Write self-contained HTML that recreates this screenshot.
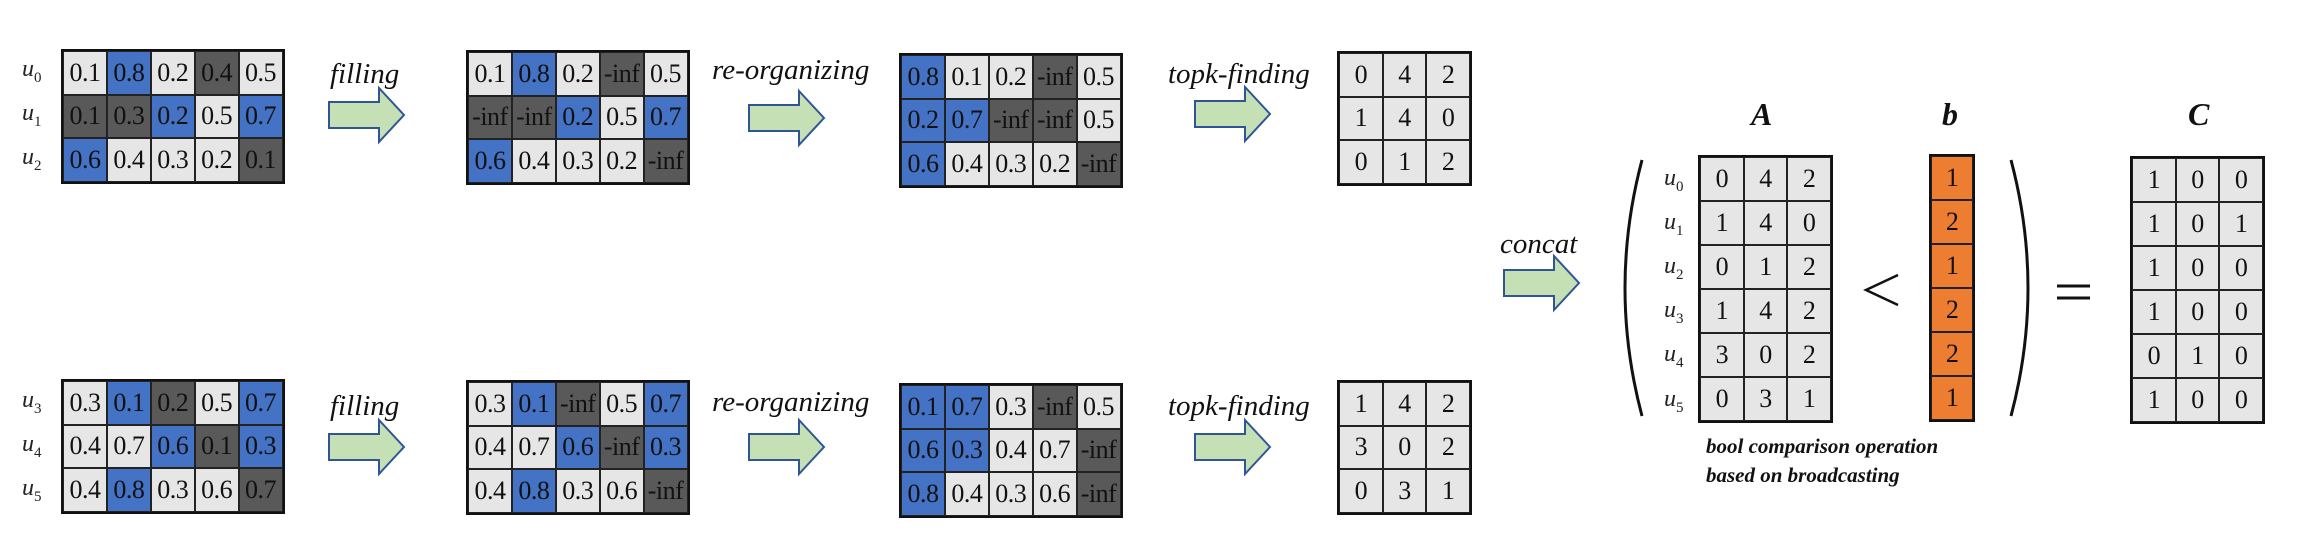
<!DOCTYPE html>
<html><head><meta charset="utf-8">
<style>
body{margin:0;width:2320px;height:551px;background:#fff;position:relative;overflow:hidden;font-family:"Liberation Serif",serif;}
.g{position:absolute;border:2px solid #111;display:grid;box-sizing:border-box;}
.c{border:1px solid #222;display:flex;align-items:center;justify-content:center;font-size:26px;color:#111;box-sizing:border-box;overflow:visible;white-space:nowrap;letter-spacing:-0.5px;}
.L{background:#e6e6e6}.B{background:#4472c4}.D{background:#595959}.O{background:#ed7d31}
.t{position:absolute;font-style:italic;white-space:nowrap;color:#111;}
.u{position:absolute;font-style:italic;font-size:24px;color:#222;}
.u sub{font-size:15px;font-style:normal}
svg{position:absolute;left:0;top:0}
</style></head><body>
<svg width="2320" height="551" id="s"></svg>
<script>
const gridsTop=[
 [["0.1L","0.8B","0.2L","0.4D","0.5L"],["0.1D","0.3D","0.2B","0.5L","0.7B"],["0.6B","0.4L","0.3L","0.2L","0.1D"]],
 [["0.1L","0.8B","0.2L","-infD","0.5L"],["-infD","-infD","0.2B","0.5L","0.7B"],["0.6B","0.4L","0.3L","0.2L","-infD"]],
 [["0.8B","0.1L","0.2L","-infD","0.5L"],["0.2B","0.7B","-infD","-infD","0.5L"],["0.6B","0.4L","0.3L","0.2L","-infD"]],
 [["0L","4L","2L"],["1L","4L","0L"],["0L","1L","2L"]]
];
const gridsBot=[
 [["0.3L","0.1B","0.2D","0.5L","0.7B"],["0.4L","0.7L","0.6B","0.1D","0.3B"],["0.4L","0.8B","0.3L","0.6L","0.7D"]],
 [["0.3L","0.1B","-infD","0.5L","0.7B"],["0.4L","0.7L","0.6B","-infD","0.3B"],["0.4L","0.8B","0.3L","0.6L","-infD"]],
 [["0.1B","0.7B","0.3L","-infD","0.5L"],["0.6B","0.3B","0.4L","0.7L","-infD"],["0.8B","0.4L","0.3L","0.6L","-infD"]],
 [["1L","4L","2L"],["3L","0L","2L"],["0L","3L","1L"]]
];
const matA=[["0L","4L","2L"],["1L","4L","0L"],["0L","1L","2L"],["1L","4L","2L"],["3L","0L","2L"],["0L","3L","1L"]];
const vecB=[["1O"],["2O"],["1O"],["2O"],["2O"],["1O"]];
const matC=[["1L","0L","0L"],["1L","0L","1L"],["1L","0L","0L"],["1L","0L","0L"],["0L","1L","0L"],["1L","0L","0L"]];
const gx=[61,466,899,1337];
function grid(data,x,y,name){
  const d=document.createElement('div');d.className='g';
  
  
  const cols=data[0].length,rows=data.length;
  d.style.left=x+'px';d.style.top=y+'px';d.style.width=(cols*44.3+2)+'px';d.style.height=(rows*44.3+2)+'px';
  d.style.gridTemplateColumns='repeat('+cols+',1fr)';d.style.gridTemplateRows='repeat('+rows+',1fr)';
  data.forEach(r=>r.forEach(v=>{const c=document.createElement('div');c.className='c '+v.slice(-1);c.textContent=v.slice(0,-1);
    
    
    d.appendChild(c);}));
  document.body.appendChild(d);
}
const topY=[49,50,53,51],botY=[379,380,383,380];
gridsTop.forEach((g,i)=>grid(g,gx[i],topY[i],'top-grid-'+i));
gridsBot.forEach((g,i)=>grid(g,gx[i],botY[i],'bottom-grid-'+i));
grid(matA,1698,155,'matrix-a');grid(vecB,1929,154,'vector-b');grid(matC,2130,156,'matrix-c');
const s=document.getElementById('s');
function arrow(x,y){const p=document.createElementNS('http://www.w3.org/2000/svg','polygon');
  p.setAttribute('points',[[0,14],[50,14],[50,0],[75,27],[50,54],[50,40],[0,40]].map(a=>(x+a[0])+','+(y+a[1])).join(' '));
  p.setAttribute('fill','#c5e0b4');p.setAttribute('stroke','#2f5597');p.setAttribute('stroke-width','2');
  
  
  s.appendChild(p);}
[[329,88],[749,91],[1195,87],[329,420],[749,420],[1195,420],[1504,256]].forEach(a=>arrow(a[0],a[1]));
function path(d,w){const p=document.createElementNS('http://www.w3.org/2000/svg','path');p.setAttribute('d',d);p.setAttribute('fill','none');p.setAttribute('stroke','#111');p.setAttribute('stroke-width',w);
  
  
  s.appendChild(p);}
path('M1642 160 Q1608 288 1642 416',3);
path('M2011 160 Q2045 288 2011 416',3);
path('M1898 275 L1866 290 L1898 305',2.5);
path('M2057 286 L2090 286 M2057 298 L2090 298',3);
</script>
<div class="u" style="left:22px;top:56px">u<sub>0</sub></div>
<div class="u" style="left:22px;top:100px">u<sub>1</sub></div>
<div class="u" style="left:22px;top:144px">u<sub>2</sub></div>
<div class="u" style="left:22px;top:387px">u<sub>3</sub></div>
<div class="u" style="left:22px;top:431px">u<sub>4</sub></div>
<div class="u" style="left:22px;top:475px">u<sub>5</sub></div>
<div class="u" style="left:1664px;top:165px">u<sub>0</sub></div>
<div class="u" style="left:1664px;top:209px">u<sub>1</sub></div>
<div class="u" style="left:1664px;top:253px">u<sub>2</sub></div>
<div class="u" style="left:1664px;top:297px">u<sub>3</sub></div>
<div class="u" style="left:1664px;top:341px">u<sub>4</sub></div>
<div class="u" style="left:1664px;top:386px">u<sub>5</sub></div>
<div class="t" style="left:330px;top:58px;font-size:29px">filling</div>
<div class="t" style="left:712px;top:54px;font-size:29px">re-organizing</div>
<div class="t" style="left:1168px;top:58px;font-size:29px">topk-finding</div>
<div class="t" style="left:330px;top:390px;font-size:29px">filling</div>
<div class="t" style="left:712px;top:386px;font-size:29px">re-organizing</div>
<div class="t" style="left:1168px;top:390px;font-size:29px">topk-finding</div>
<div class="t" style="left:1500px;top:228px;font-size:29px">concat</div>
<div class="t" style="left:1751px;top:96px;font-size:32px;font-weight:bold">A</div>
<div class="t" style="left:1942px;top:96px;font-size:32px;font-weight:bold">b</div>
<div class="t" style="left:2188px;top:96px;font-size:32px;font-weight:bold">C</div>
<div class="t" style="left:1706px;top:432px;font-size:21px;font-weight:bold;line-height:29px">bool comparison operation<br>based on broadcasting</div>
</body></html>
